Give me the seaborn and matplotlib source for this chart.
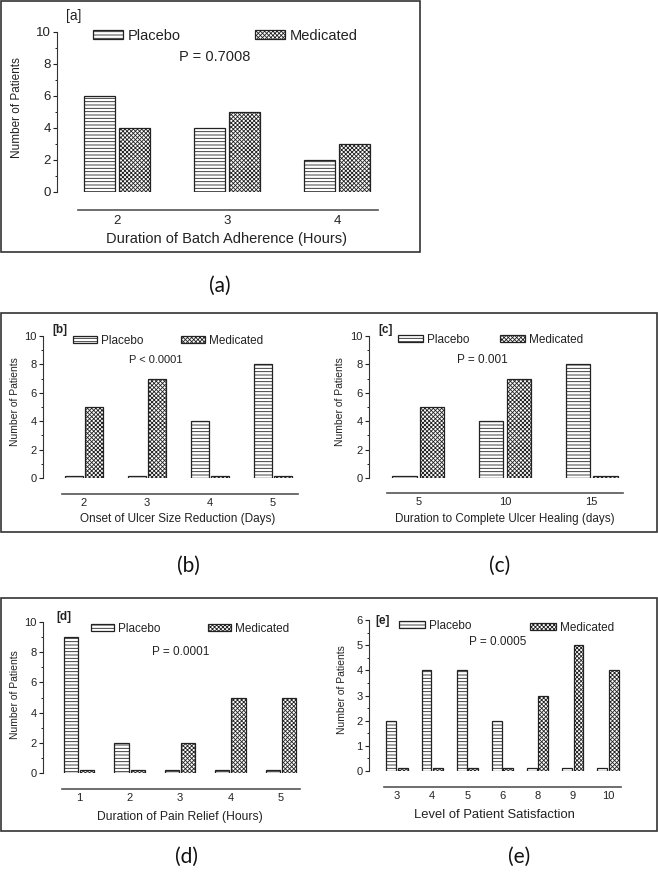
import numpy as np
import pandas as pd
import matplotlib
matplotlib.use("Agg")
import matplotlib.pyplot as plt
import seaborn as sns
from matplotlib.patches import Patch, Rectangle
from matplotlib.ticker import MultipleLocator

# ---- data ----
a_cats = ['2', '3', '4']
a_placebo = [6, 4, 2]
a_medicated = [4, 5, 3]

b_cats = ['2', '3', '4', '5']
b_placebo = [0, 0, 4, 8]
b_medicated = [5, 7, 0, 0]

c_cats = ['5', '10', '15']
c_placebo = [0, 4, 8]
c_medicated = [5, 7, 0]

d_cats = ['1', '2', '3', '4', '5']
d_placebo = [9, 2, 0, 0, 0]
d_medicated = [0, 0, 2, 5, 5]

e_cats = ['3', '4', '5', '6', '8', '9', '10']
e_placebo = [2, 4, 4, 2, 0, 0, 0]
e_medicated = [0, 0, 0, 0, 3, 5, 4]

groups = ['Placebo', 'Medicated']
hatches = ['-----', 'xxxxxxxx']

sns.set_style('ticks')
plt.rcParams['font.family'] = ['Liberation Sans', 'DejaVu Sans']
plt.rcParams['hatch.linewidth'] = 0.6

W, H = 658, 875
fig = plt.figure(figsize=(W / 100, H / 100), dpi=100)
ink = '#222222'
PT = 0.72  # px -> pt at 100 dpi


def fx(x):
    return x / W


def fy(y):
    return 1 - y / H


def panel(cats, placebo, medicated, ymax, box, xlim, offs, tick_fs,
          xlab, xlab_xy, xlab_fs, ylab_xy, ylab_fs,
          tag, tag_xy, tag_fs, tag_w, pval, p_xy, p_fs,
          leg_pos, leg_size, leg_fs):
    l, t, r, b = box
    ax = fig.add_axes([fx(l), fy(b), (r - l) / W, (b - t) / H])
    n = len(cats)
    df = pd.DataFrame({'cat': cats * 2,
                       'group': [groups[0]] * n + [groups[1]] * n,
                       'count': placebo + medicated})
    # Origin draws empty groups as a thin stub
    df['shown'] = df['count'].clip(lower=ymax * 0.017)
    sns.barplot(df, x='cat', y='shown', hue='group', order=cats,
                hue_order=groups, palette={g: 'white' for g in groups},
                edgecolor=ink, linewidth=0.9, width=0.64, gap=0.12,
                errorbar=None, legend=False, ax=ax)
    for cont, h in zip(ax.containers, hatches):
        for bar in cont:
            bar.set_hatch(h)

    ax.set_xlim(*xlim)
    ax.set_ylim(0, ymax)
    sns.despine(ax=ax)
    ax.spines['left'].set_position(('outward', offs[0] * PT))
    ax.spines['bottom'].set_position(('outward', offs[1] * PT))
    ax.spines['left'].set_bounds(0, ymax)
    ax.spines['left'].set_color('#333333')
    ax.spines['bottom'].set_color('#555555')
    ax.spines['left'].set_linewidth(0.8)
    ax.spines['bottom'].set_linewidth(1.2)
    step = 2 if ymax > 6 else 1
    ax.yaxis.set_major_locator(MultipleLocator(step))
    ax.yaxis.set_minor_locator(MultipleLocator(step / 2))
    ax.tick_params(axis='x', length=0, pad=tick_fs * 0.4, labelsize=tick_fs,
                   colors=ink)
    ax.tick_params(axis='y', which='major', length=3, width=0.8, pad=1.5,
                   labelsize=tick_fs, colors=ink)
    ax.tick_params(axis='y', which='minor', length=1.8, width=0.7, colors=ink)

    ax.set_xlabel(xlab, fontsize=xlab_fs, color=ink)
    ax.set_ylabel('Number of Patients', fontsize=ylab_fs, color=ink)
    ax.xaxis.set_label_coords(fx(xlab_xy[0]), fy(xlab_xy[1]), transform=fig.transFigure)
    ax.yaxis.set_label_coords(fx(ylab_xy[0]), fy(ylab_xy[1]), transform=fig.transFigure)
    ax.xaxis.label.set_va('center')
    ax.yaxis.label.set_va('center')

    fig.text(fx(tag_xy[0]), fy(tag_xy[1]), tag, fontsize=tag_fs, color=ink,
             ha='center', va='center', fontweight=tag_w)
    fig.text(fx(p_xy[0]), fy(p_xy[1]), pval, fontsize=p_fs, color=ink,
             ha='center', va='center')

    hw, hh = leg_size
    for g, h, (lx, ly) in zip(groups, hatches, leg_pos):
        handle = Patch(facecolor='white', edgecolor=ink, linewidth=0.9, hatch=h)
        px = leg_fs * 100 / 72
        fig.legend([handle], [g], loc='center left',
                   bbox_to_anchor=(fx(lx), fy(ly)), bbox_transform=fig.transFigure,
                   frameon=False, fontsize=leg_fs, borderpad=0, borderaxespad=0,
                   handlelength=hw / px, handleheight=hh / px,
                   handletextpad=0.3, labelcolor=ink)
    return ax


# [a]
panel(a_cats, a_placebo, a_medicated, 10, (78, 32, 378, 192), (-0.355, 2.37), (21, 18), 9.5,
      'Duration of Batch Adherence (Hours)', (226, 239), 10.5, (17, 108), 8.5,
      '[a]', (74, 16), 10, 'normal', 'P = 0.7008', (215, 57), 10.5,
      [(93, 36), (255, 36)], (30, 8), 10.5)
# [b]
panel(b_cats, b_placebo, b_medicated, 10, (62, 336, 298, 478), (-0.35, 3.4), (19, 16), 8,
      'Onset of Ulcer Size Reduction (Days)', (178, 519), 8.5, (15, 402), 7.5,
      '[b]', (60, 330), 8.5, 'bold', 'P < 0.0001', (156, 360), 8,
      [(73, 341), (181, 341)], (24, 6), 8.5)
# [c]
panel(c_cats, c_placebo, c_medicated, 10, (387, 336, 623, 478), (-0.36, 2.36), (18, 15), 8,
      'Duration to Complete Ulcer Healing (days)', (505, 519), 8.4, (340, 402), 7.5,
      '[c]', (386, 330), 8.5, 'bold', 'P = 0.001', (482, 360), 8.5,
      [(398, 340), (500, 340)], (25, 6), 8.5)
# [d]
panel(d_cats, d_placebo, d_medicated, 10, (62, 622, 300, 773), (-0.34, 4.38), (19, 16), 8,
      'Duration of Pain Relief (Hours)', (180, 817), 8.7, (15, 695), 7.5,
      '[d]', (64, 617), 8.5, 'bold', 'P = 0.0001', (181, 652), 8.5,
      [(91, 629), (208, 629)], (23, 6), 8.5)
# [e]
panel(e_cats, e_placebo, e_medicated, 6, (384, 620, 621, 771), (-0.37, 6.37), (15, 16), 8,
      'Level of Patient Satisfaction', (494, 815), 9.4, (342, 690), 7.5,
      '[e]', (383, 621), 8.5, 'bold', 'P = 0.0005', (498, 642), 8.5,
      [(399, 626), (530, 628)], (26, 6), 8.5)

# frames around the figure groups
for (l, t, r, b) in [(1, 1, 420, 252), (1, 313, 657, 532), (1, 598, 657, 831)]:
    fig.add_artist(Rectangle((fx(l), fy(b)), (r - l) / W, (b - t) / H,
                             transform=fig.transFigure, fill=False,
                             edgecolor='#333333', linewidth=1.2))

for lab, (x, y) in [('(a)', (220, 286)), ('(b)', (188, 566)), ('(c)', (500, 566)),
                    ('(d)', (187, 857)), ('(e)', (519, 857))]:
    fig.text(fx(x), fy(y), lab, fontsize=15, family=['Lato', 'DejaVu Sans'],
             ha='center', va='center', color='#111111')

fig.savefig('out.png', dpi=100)
